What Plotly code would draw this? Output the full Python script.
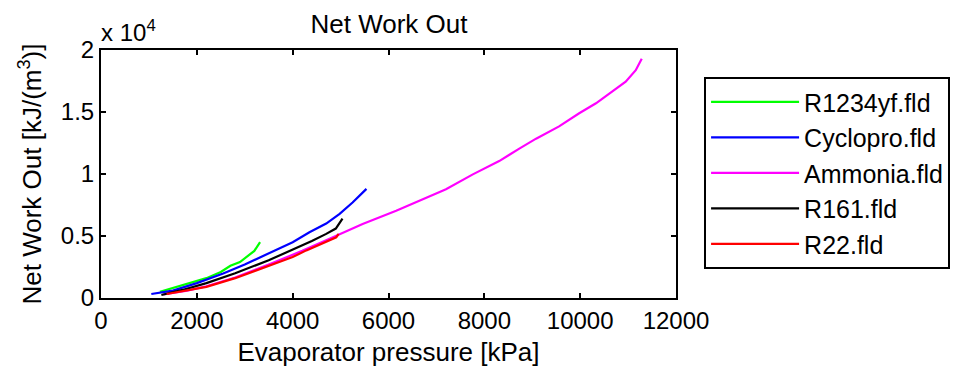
import plotly.graph_objects as go

# ---- data ----
r1234yf_p = [1230, 1500, 1850, 2200, 2500, 2700, 2900, 3100, 3200, 3320]
r1234yf_w = [500, 800, 1170, 1600, 2100, 2600, 2900, 3500, 3800, 4500]

cyclopro_p = [1050, 1500, 2000, 2550, 3000, 3520, 4000, 4350, 4700, 4980, 5250, 5540]
cyclopro_w = [320, 600, 1200, 1970, 2700, 3630, 4500, 5300, 6000, 6780, 7700, 8800]

ammonia_p = [1300, 1800, 2200, 2800, 3500, 4200, 4770, 5460, 6160, 6580, 7200, 7760,
             8310, 8730, 9080, 9560, 9980, 10330, 10600, 10950, 11160, 11285]
ammonia_w = [280, 600, 950, 1650, 2700, 3800, 4780, 5970, 7040, 7750, 8770, 9970,
             11040, 12050, 12850, 13840, 14900, 15700, 16430, 17440, 18370, 19300]

r161_p = [1260, 1700, 2200, 2800, 3500, 3970, 4400, 4700, 4900, 5040]
r161_w = [240, 650, 1200, 2000, 3040, 3840, 4600, 5170, 5600, 6400]

r22_p = [1370, 1800, 2200, 2800, 3520, 4000, 4285, 4600, 4910, 4960]
r22_w = [320, 600, 900, 1600, 2640, 3300, 3840, 4350, 4900, 5170]

series_names = ["R1234yf.fld", "Cyclopro.fld", "Ammonia.fld", "R161.fld", "R22.fld"]
series_colors = ["#00ff00", "#0000ff", "#ff00ff", "#000000", "#ff0000"]
series_x = [r1234yf_p, cyclopro_p, ammonia_p, r161_p, r22_p]
series_y = [r1234yf_w, cyclopro_w, ammonia_w, r161_w, r22_w]

x_ticks = [0, 2000, 4000, 6000, 8000, 10000, 12000]
y_ticks = [0, 5000, 10000, 15000, 20000]
y_tick_labels = ["0", "0.5", "1", "1.5", "2"]

FONT = "Liberation Sans, Arial, sans-serif"

fig = go.Figure()
for name, col, xs, ys in zip(series_names, series_colors, series_x, series_y):
    fig.add_trace(go.Scatter(x=xs, y=ys, mode="lines", name=name,
                             line=dict(color=col, width=2.2)))

axis_common = dict(showline=True, linecolor="black", linewidth=2, mirror="ticks",
                   ticks="inside", ticklen=5, tickwidth=1.5, tickcolor="black",
                   showgrid=False, zeroline=False,
                   tickfont=dict(family=FONT, size=24, color="black"))

fig.update_xaxes(range=[0, 12000], tickvals=x_ticks, ticktext=[str(v) for v in x_ticks],
                 title=dict(text="Evaporator pressure [kPa]", font=dict(family=FONT, size=26, color="black"),
                            standoff=10),
                 **axis_common)
fig.update_yaxes(range=[0, 20000], tickvals=y_ticks, ticktext=y_tick_labels,
                 title=dict(text="Net Work Out [kJ/(m<sup>3</sup>)]", font=dict(family=FONT, size=26, color="black"),
                            standoff=12),
                 **axis_common)

fig.add_annotation(text="x 10<sup>4</sup>", xref="paper", yref="paper", x=0.0, y=1.0,
                   xanchor="left", yanchor="bottom", xshift=-2, yshift=2, showarrow=False,
                   font=dict(family=FONT, size=24, color="black"))

fig.update_layout(
    width=961, height=378,
    margin=dict(l=101, r=284, t=50, b=80),
    paper_bgcolor="white", plot_bgcolor="white",
    title=dict(text="Net Work Out", x=(389 / 961), xanchor="center",
               y=1 - 23.5 / 378, yanchor="middle",
               font=dict(family=FONT, size=26, color="black")),
    legend=dict(x=1.047, y=0.891, xanchor="left", yanchor="top",
                bordercolor="black", borderwidth=2, bgcolor="white",
                font=dict(family=FONT, size=25, color="black"),
                traceorder="normal", itemwidth=88,
                entrywidth=170, entrywidthmode="pixels"),
    showlegend=True,
)

fig.write_html("out.html", config={"displayModeBar": False},
               post_script="document.body.style.margin='0';document.body.style.overflow='hidden';")
